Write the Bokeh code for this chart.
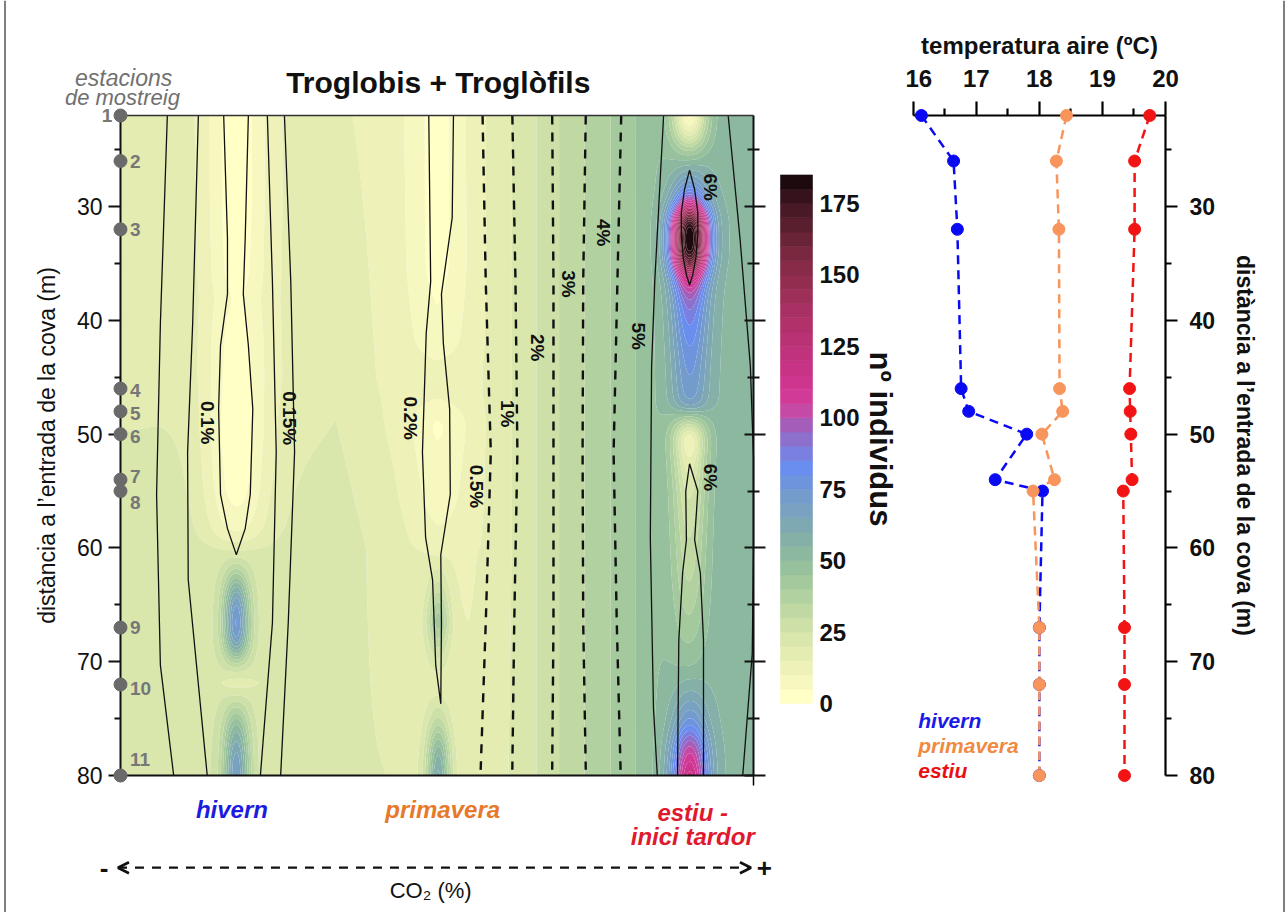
import numpy as np
from bokeh.plotting import figure
from bokeh.layouts import row
from bokeh.models import (Range1d, FixedTicker, LinearAxis, Label, Arrow, OpenHead)
from bokeh.core.properties import value
from bokeh.embed import file_html
from bokeh.resources import INLINE

FONT = "Liberation Sans"

# ---------------------------------------------------------------- data
station_ids = ["1", "2", "3", "4", "5", "6", "7", "8", "9", "10", "11"]
station_depth = [22, 26, 32, 46, 48, 50, 54, 55, 67, 72, 80]

seasons = ["hivern", "primavera", "estiu"]
temp_hivern = [16.13, 16.64, 16.70, 16.76, 16.88, 17.80, 17.30, 18.05, 18.00, 18.00, 18.00]
temp_primavera = [18.43, 18.27, 18.31, 18.32, 18.37, 18.04, 18.24, 17.90, 18.00, 18.00, 18.00]
temp_estiu = [19.75, 19.51, 19.51, 19.43, 19.44, 19.45, 19.47, 19.33, 19.35, 19.35, 19.35]

# abundance (nº individus) read along each season column of the CO2 gradient
hivern_x = 18.3
hivern_depth = [22, 30, 36, 38, 41, 46, 50, 55, 57, 58.5, 60, 61.5, 63, 64.5, 66.7, 68.5, 70, 71.8, 73.5, 76, 78.5, 80]
hivern_count = [2, 2, 3, 5, 3, 2, 1, 3, 6, 9, 18, 30, 50, 68, 78, 66, 35, 14, 30, 55, 68, 70]
primavera_x = 50.2
primavera_depth = [22, 35, 42, 45.5, 49, 52, 56, 60, 63, 66.5, 69, 72, 75, 78, 80]
primavera_count = [3, 3, 7, 14, 4, 6, 8, 12, 25, 45, 28, 15, 30, 55, 62]
estiu_x = 89.9
estiu_depth = [22, 23.5, 25, 27, 28.3, 29.3, 30.2, 31, 31.8, 32.6, 33.4, 34.2, 35, 36, 37, 38.5,
               40, 43, 46, 47.5, 48.8, 50.3, 52.5, 55, 59, 63, 67, 70.5, 73, 75.5, 77.5, 80]
estiu_count = [2, 14, 40, 62, 76, 95, 128, 168, 186, 186, 186, 182, 158, 124, 104, 92,
               86, 78, 73, 70, 35, 8, 17, 24, 30, 35, 42, 50, 62, 78, 102, 118]

# background abundance between the columns (rows: gradient position, cols: depth)
bg_x = [0, 10, 26, 34, 42, 50, 55, 59.4, 65, 70, 75, 80.7, 85, 92, 100]
bg_depth = [22, 45, 60, 80]
bg_count = [
    [18, 19, 22, 24], [18, 19, 23, 25], [17, 17, 22, 22], [16, 19, 23, 21],
    [13, 14, 18, 20], [9, 11, 14, 17], [13, 13, 14, 17], [17, 17, 17, 18],
    [24, 24, 24, 24], [31, 31, 31, 31], [37, 37, 37, 37], [44, 44, 44, 44],
    [50, 50, 50, 50], [53, 53, 53, 53], [54, 54, 54, 54],
]
count_levels = list(range(0, 190, 5))
count_ticks = [0, 25, 50, 75, 100, 125, 150, 175]

# CO2 isolines (gradient position x, depth d)
iso_015_w_x = [7.4, 6.3, 5.7, 6.3, 8.4]
iso_015_w_d = [22, 40.3, 55.3, 70.3, 80]
iso_010_w_x = [12.3, 11.4, 10.6, 10.7, 13.7]
iso_010_w_d = [22, 40.3, 51.6, 62.8, 80]
iso_hiv_loop_x = [16.3, 16.9, 16.9, 15.8, 15.5, 15.8, 16.9, 18.3, 19.7, 20.5, 20.9, 20.2, 19.4, 19.7, 20.2]
iso_hiv_loop_d = [22, 32.8, 37.7, 42.2, 47.8, 55.3, 58.3, 60.6, 58.3, 55.3, 47.8, 42.2, 37.7, 32.8, 22]
iso_010_e_x = [23.2, 24.0, 24.6, 24.0, 22.1]
iso_015_e_x = [25.9, 26.9, 27.5, 26.5, 25.3]
iso_e_d = [22, 36.6, 51.6, 66.6, 80]
iso_020_x = [48.7, 49.0, 48.3, 47.7, 48.2, 49.3, 49.8, 50.6, 50.7, 50.6, 52.1, 52.0, 51.0, 50.7, 52.4, 52.6]
iso_020_d = [22, 36.6, 41.1, 51.6, 59.1, 62.8, 70.3, 73.7, 66.6, 60.6, 55.3, 47.8, 42, 37.7, 31, 22]
iso_dash_d = [22, 36.6, 51.6, 66.6, 79.5]
iso_05_x = [57.2, 57.7, 58.5, 57.7, 56.9]
iso_1_x = [61.9, 62.4, 62.7, 62.2, 61.9]
iso_2_x = [68.2, 68.4, 68.4, 68.4, 68.2]
iso_3_x = [73.5, 73.1, 73.0, 73.1, 73.5]
iso_4_x = [79.1, 78.5, 77.9, 78.4, 79.0]
iso_5_w_x = [85.8, 84.4, 83.9, 83.7, 84.2, 84.8]
iso_5_w_d = [22, 36.6, 44.1, 59.1, 74.1, 80]
iso_5_e_x = [96.0, 97.9, 99.5, 100.6, 100.6, 99.8, 98.3]
iso_5_e_d = [22, 33, 44, 52, 60, 69.3, 80]
iso_6_up_x = [89.9, 89.1, 88.6, 88.6, 88.9, 89.4, 89.9, 90.4, 90.9, 91.2, 91.2, 90.7, 89.9]
iso_6_up_d = [26.8, 28.5, 30.5, 32.5, 34.5, 36, 36.9, 36, 34.5, 32.5, 30.5, 28.5, 26.8]
iso_6_lo_x = [88.0, 88.2, 88.8, 89.4, 89.3, 89.9, 91.2, 90.7, 91.6, 92.1, 92.1]
iso_6_lo_d = [80, 68.1, 62.2, 59.3, 55, 52.6, 55, 59.3, 62.2, 68.1, 80]

iso_labels = ["0.1%", "0.15%", "0.2%", "0.5%", "1%", "2%", "3%", "4%", "5%", "6%", "6%"]
iso_label_x = [13.7, 26.7, 45.8, 56.2, 61.1, 65.9, 70.8, 76.3, 81.8, 93.2, 93.2]
iso_label_d = [49.0, 48.6, 48.6, 54.6, 48.2, 42.4, 36.8, 32.3, 41.4, 28.3, 53.8]

depth_ticks = [30, 40, 50, 60, 70, 80]
depth_minor = [25, 35, 45, 55, 65, 75]
temp_ticks = [16, 17, 18, 19, 20]
temp_minor = [16.5, 17.5, 18.5, 19.5]

# ---------------------------------------------------------------- styles
palette = ["#ffffc6", "#f7f8bf", "#eef2b8", "#e4ecb2", "#d9e6ac", "#cde0a7", "#c0d9a3",
           "#b2d1a0", "#a4c99d", "#97c09c", "#8cb8a0", "#84b0a8", "#7ea9b3", "#78a2bf",
           "#739bcc", "#6d94dc", "#6a8ef0", "#7a80e0", "#8c70cc", "#a55dba", "#c44aa6",
           "#d23a98", "#cd358f", "#c73385", "#c0327c", "#b93274", "#b1316b", "#a83062",
           "#9e2f59", "#932d50", "#872b48", "#792840", "#6a2438", "#5a1f2f", "#491a26",
           "#36131c", "#1c0a0e"]
season_text_colors = ["#1c1ce0", "#e8792a", "#e0192e"]
series_colors = ["#0a0af2", "#f7955c", "#f21414"]
legend_colors = ["#1a1ae8", "#f08a40", "#e81010"]
GREY = "#6a6a6a"
INK = "#111111"

# page geometry (pixels): main frame 120..753 x 115..775
FIG1_W, CB_W, T_W, FIG_H = 775, 130, 383, 912
X_PX0, X_PX_PER = 120.0, 6.33          # gradient position 0 at px 120
D_PX0, D_PX_PER = 115.0, 11.38         # depth 22 m at py 115
T_PX0, T_PX_PER = 912.7, 63.08         # 16 ºC at px 912.7
CB_PX0, CB_PX_PER = 703.0, 2.857       # 0 individus at py 703

y_depth_range = Range1d(22 + (FIG_H - D_PX0) / D_PX_PER, 22 - D_PX0 / D_PX_PER)

# ---------------------------------------------------------------- abundance field
nx, ny = 400, 400
xs = np.linspace(0, 100, nx)
ds = np.linspace(22, 80, ny)
bg_arr = np.array(bg_count, dtype=float)
bg_rows = np.array([np.interp(xs, bg_x, bg_arr[:, k]) for k in range(len(bg_depth))])
Z = np.array([np.interp(ds, bg_depth, bg_rows[:, i]) for i in range(nx)]).T


def smooth_depth(profile, sig):
    """Light Gaussian smoothing of a depth profile sampled on ds."""
    step = ds[1] - ds[0]
    half = int(3 * sig / step)
    k = np.arange(-half, half + 1) * step
    w = np.exp(-0.5 * (k / sig) ** 2)
    w /= w.sum()
    return np.convolve(np.pad(profile, half, mode="edge"), w, mode="valid")


columns = [(hivern_x, hivern_depth, hivern_count, 1.45, 3.6),
           (primavera_x, primavera_depth, primavera_count, 1.3, 3.3),
           (estiu_x, estiu_depth, estiu_count, 2.1, 1.9)]
for xc, pdp, pv, s_hi, s_lo in columns:
    bgc = np.interp(ds, bg_depth, [np.interp(xc, bg_x, bg_arr[:, k]) for k in range(len(bg_depth))])
    A = smooth_depth(np.interp(ds, pdp, pv), 0.6) - bgc
    s = np.where(A >= 0, s_hi, s_lo)[:, None]
    Z = Z + A[:, None] * np.exp(-0.5 * ((xs[None, :] - xc) / s) ** 2)
Z = np.clip(Z, 0.01, 184.99)

# ---------------------------------------------------------------- main figure
p = figure(width=FIG1_W, height=FIG_H, min_border=0,
           x_range=Range1d(-X_PX0 / X_PX_PER, (FIG1_W - X_PX0) / X_PX_PER), y_range=y_depth_range,
           x_axis_location=None, y_axis_location=None,
           output_backend="svg", toolbar_location=None, tools="")
p.grid.visible = False
p.outline_line_color = None
p.background_fill_color = "white"

p.contour(xs, ds, Z, levels=count_levels, fill_color=palette, line_color=None)

solid_xs = [iso_015_w_x, iso_010_w_x, iso_hiv_loop_x, iso_010_e_x, iso_015_e_x, iso_020_x,
            iso_5_w_x, iso_5_e_x, iso_6_up_x, iso_6_lo_x]
solid_ds = [iso_015_w_d, iso_010_w_d, iso_hiv_loop_d, iso_e_d, iso_e_d, iso_020_d,
            iso_5_w_d, iso_5_e_d, iso_6_up_d, iso_6_lo_d]
solid_xs = [list(np.minimum(v, 100)) for v in solid_xs]   # keep isolines on the map
p.multi_line(solid_xs, solid_ds, line_color=INK, line_width=1.3)
dash_xs = [iso_05_x, iso_1_x, iso_2_x, iso_3_x, iso_4_x]
p.multi_line(dash_xs, [iso_dash_d] * 5, line_color=INK, line_width=2.4, line_dash="9 8")

p.text(x=iso_label_x, y=iso_label_d, text=iso_labels, angle=-np.pi / 2,
       text_font=value(FONT), text_font_style="bold", text_font_size="19px",
       text_align="center", text_baseline="middle", text_color=INK)

# page border (left side)
p.segment(x0=[(4.5 - X_PX0) / X_PX_PER], y0=[y_depth_range.start], x1=[(4.5 - X_PX0) / X_PX_PER],
          y1=[y_depth_range.end], line_color="#555555", line_width=1.5)

# axes fixed on the map edges
def depth_axis(loc, side, labels):
    ax = LinearAxis(fixed_location=loc, bounds=(22, 80),
                    ticker=FixedTicker(ticks=depth_ticks, minor_ticks=depth_minor),
                    axis_line_width=2, major_tick_line_width=2, minor_tick_line_width=2,
                    axis_line_color=INK, major_tick_line_color=INK, minor_tick_line_color=INK)
    if labels:
        ax.major_tick_out, ax.major_tick_in = 12, 0
        ax.minor_tick_out, ax.minor_tick_in = 6, 0
        ax.major_label_text_font = FONT
        ax.major_label_text_font_size = "23px"
        ax.major_label_text_color = INK
        ax.major_label_standoff = 6
    else:
        ax.major_tick_out, ax.major_tick_in = 12, 9
        ax.minor_tick_out, ax.minor_tick_in = 6, 6
        ax.major_label_overrides = {t: "" for t in depth_ticks}
    p.add_layout(ax, side)
    return ax

ax_l = depth_axis(0, "left", True)
ax_l.axis_label = "distància a l’entrada de la cova (m)"
ax_l.axis_label_text_font = FONT
ax_l.axis_label_text_font_style = "normal"
ax_l.axis_label_text_font_size = "23px"
ax_l.axis_label_text_color = INK
ax_l.axis_label_standoff = 14
depth_axis(100, "right", False)

ax_b = LinearAxis(fixed_location=80, bounds=(0, 100), ticker=FixedTicker(ticks=[100], minor_ticks=[]),
                  major_label_overrides={100: ""}, major_tick_out=10, major_tick_in=0,
                  axis_line_width=2, major_tick_line_width=1.5, axis_line_color=INK)
p.add_layout(ax_b, "below")
ax_t = LinearAxis(fixed_location=22, bounds=(0, 100), ticker=FixedTicker(ticks=[], minor_ticks=[]),
                  axis_line_width=1.6, axis_line_color="#333333")
p.add_layout(ax_t, "above")

# stations
p.scatter(x=[0] * len(station_depth), y=station_depth, size=13, color=GREY, level="overlay")
lab_dy = [0, 0, 0, 0.2, 0.2, 0.2, -0.3, 1.0, 0, 0.35, -1.4]
p.text(x=[1.5] * 10, y=[d + o for d, o in zip(station_depth[1:], lab_dy[1:])], text=station_ids[1:],
       text_font=value(FONT), text_font_style="bold", text_font_size="19px",
       text_align="left", text_baseline="middle", text_color="#777777")
p.add_layout(Label(x=-1.3, y=station_depth[0], text=station_ids[0], text_font=FONT,
                   text_font_style="bold", text_font_size="19px", text_align="right",
                   text_baseline="middle", text_color="#777777"))

# texts around the map
p.add_layout(Label(x=50.2, y=19.1, text="Troglobis + Troglòfils", text_font=FONT,
                   text_font_style="bold", text_font_size="30px", text_align="center",
                   text_baseline="middle", text_color=INK))
p.add_layout(Label(x=0.5, y=18.7, text="estacions", text_font=FONT, text_font_style="italic",
                   text_font_size="23px", text_align="center", text_baseline="middle", text_color="#707070"))
p.add_layout(Label(x=0.3, y=20.4, text="de mostreig", text_font=FONT, text_font_style="italic",
                   text_font_size="22px", text_align="center", text_baseline="middle", text_color="#707070"))

season_label_x = [17.6, 50.9, 90.4]
for txt, xx, yy, col in [("hivern", season_label_x[0], 83.0, season_text_colors[0]),
                         ("primavera", season_label_x[1], 83.0, season_text_colors[1]),
                         ("estiu -", season_label_x[2], 83.25, season_text_colors[2]),
                         ("inici tardor", season_label_x[2], 85.4, season_text_colors[2])]:
    p.add_layout(Label(x=xx, y=yy, text=txt, text_font=FONT, text_font_style="bold italic",
                       text_font_size="24px", text_align="center", text_baseline="middle",
                       text_color=col))

p.add_layout(Arrow(x_start=-0.4, y_start=88.1, x_end=99.6, y_end=88.1, line_width=2.2,
                   line_dash="9 8", line_color=INK,
                   start=OpenHead(size=11, line_width=2.6, line_color=INK),
                   end=OpenHead(size=11, line_width=2.6, line_color=INK)))
p.add_layout(Label(x=-2.6, y=88.1, text="-", text_font=FONT, text_font_style="bold",
                   text_font_size="26px", text_align="center", text_baseline="middle", text_color=INK))
p.add_layout(Label(x=101.7, y=88.1, text="+", text_font=FONT, text_font_style="bold",
                   text_font_size="26px", text_align="center", text_baseline="middle", text_color=INK))
p.add_layout(Label(x=49.0, y=90.1, text="CO₂ (%)", text_font=FONT,
                   text_font_size="22px", text_align="center", text_baseline="middle", text_color=INK))

# ---------------------------------------------------------------- colour bar figure
cb = figure(width=CB_W, height=FIG_H, min_border=0,
            x_range=Range1d(FIG1_W, FIG1_W + CB_W),
            y_range=Range1d(-(FIG_H - CB_PX0) / CB_PX_PER, CB_PX0 / CB_PX_PER),
            x_axis_location=None, y_axis_location=None,
            output_backend="svg", toolbar_location=None, tools="")
cb.grid.visible = False
cb.outline_line_color = None
bar_left, bar_right = 780, 812
cb.quad(left=bar_left, right=bar_right, bottom=count_levels[:-1], top=count_levels[1:],
        fill_color=palette, line_color=palette, line_width=0.6)
cb_ax = LinearAxis(fixed_location=bar_right, bounds=(0, 185),
                   ticker=FixedTicker(ticks=count_ticks, minor_ticks=[]),
                   axis_line_color=None, major_tick_line_color=None,
                   major_label_text_font=FONT, major_label_text_font_style="bold",
                   major_label_text_font_size="24px", major_label_text_color=INK,
                   major_label_standoff=1,
                   axis_label="nº individus", axis_label_text_font=FONT,
                   axis_label_text_font_style="bold", axis_label_text_font_size="31px",
                   axis_label_text_color=INK, axis_label_standoff=0)
cb.add_layout(cb_ax, "right")

# ---------------------------------------------------------------- temperature figure
t_x0 = FIG1_W + CB_W
t = figure(width=T_W, height=FIG_H, min_border=0,
           x_range=Range1d(16 - (T_PX0 - t_x0) / T_PX_PER, 16 + (t_x0 + T_W - T_PX0) / T_PX_PER),
           y_range=Range1d(y_depth_range.start, y_depth_range.end),
           x_axis_location=None, y_axis_location=None,
           output_backend="svg", toolbar_location=None, tools="")
t.grid.visible = False
t.outline_line_color = None

for temps, col in zip([temp_hivern, temp_primavera, temp_estiu], series_colors):
    t.line(temps, station_depth, line_color=col, line_width=2.5, line_dash="9 6")
    t.scatter(temps, station_depth, size=12, color=col, level="overlay")

t.text(x=[16.08] * 3, y=[75.2, 77.4, 79.6], text=seasons, text_color=legend_colors,
       text_font=value(FONT), text_font_style="bold italic", text_font_size="21px",
       text_align="left", text_baseline="middle")

# page border (right side)
t.segment(x0=[16 + (1283.5 - T_PX0) / T_PX_PER], y0=[y_depth_range.start],
          x1=[16 + (1283.5 - T_PX0) / T_PX_PER], y1=[y_depth_range.end],
          line_color="#555555", line_width=1.5)

t_top = LinearAxis(fixed_location=22, bounds=(16, 20),
                   ticker=FixedTicker(ticks=temp_ticks, minor_ticks=temp_minor),
                   major_tick_out=14, major_tick_in=0, minor_tick_out=7, minor_tick_in=0,
                   axis_line_width=2.2, major_tick_line_width=2.2, minor_tick_line_width=2.2,
                   major_label_text_font=FONT, major_label_text_font_style="bold",
                   major_label_text_font_size="24px", major_label_text_color=INK,
                   major_label_standoff=15,
                   axis_label="temperatura aire (ºC)", axis_label_text_font=FONT,
                   axis_label_text_font_style="bold", axis_label_text_font_size="24px",
                   axis_label_text_color=INK, axis_label_standoff=8)
t.add_layout(t_top, "above")
t_right = LinearAxis(fixed_location=20, bounds=(22, 80),
                     ticker=FixedTicker(ticks=depth_ticks, minor_ticks=depth_minor),
                     major_tick_out=12, major_tick_in=0, minor_tick_out=6, minor_tick_in=0,
                     axis_line_width=2.2, major_tick_line_width=2.2, minor_tick_line_width=2.2,
                     major_label_text_font=FONT, major_label_text_font_style="bold",
                     major_label_text_font_size="23px", major_label_text_color=INK,
                     major_label_standoff=12,
                     axis_label="distància a l’entrada de la cova (m)", axis_label_text_font=FONT,
                     axis_label_text_font_style="bold", axis_label_text_font_size="23px",
                     axis_label_text_color=INK, axis_label_standoff=14)
t.add_layout(t_right, "right")

layout = row(p, cb, t)
open("out.html", "w").write(file_html(layout, INLINE))
